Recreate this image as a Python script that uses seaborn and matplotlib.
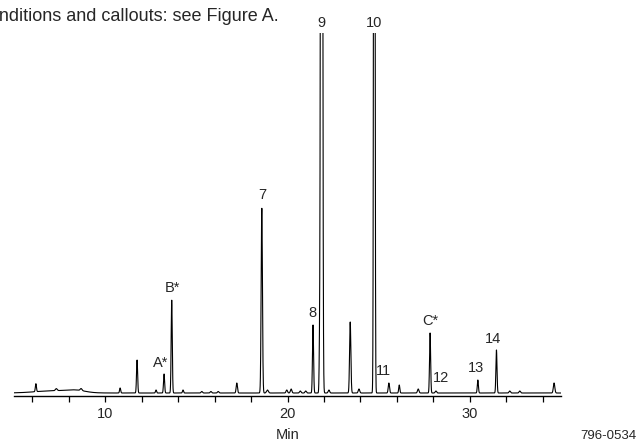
import numpy as np
import pandas as pd
import matplotlib
matplotlib.use("Agg")
import matplotlib.pyplot as plt
import seaborn as sns

# peak table: retention time (min), height (signal units), width (sigma, min)
peak_time = [6.20, 7.32, 8.68, 10.82, 11.75, 12.79, 13.23, 13.65, 14.27, 15.30, 15.80, 16.20,
             17.22, 18.59, 18.90, 19.96, 20.20, 20.70, 21.00, 21.40, 21.76, 21.87, 22.27,
             23.44, 23.92, 24.76, 25.56, 26.13, 27.17, 27.82, 28.14, 30.44, 31.46, 32.19,
             32.74, 34.62, 7.20, 8.40]
peak_height = [8, 2, 2, 5, 33, 3, 19, 93, 3, 1.5, 1.5, 1.5,
               10, 185, 3, 3, 4, 2, 2, 68, 39, 2000, 3,
               71, 4, 1500, 10, 8, 4, 60, 2, 13, 43, 2,
               2, 10, 2.2, 2.0]
peak_width = [0.03, 0.05, 0.05, 0.03, 0.03, 0.03, 0.03, 0.03, 0.03, 0.04, 0.04, 0.04,
              0.035, 0.035, 0.05, 0.04, 0.04, 0.04, 0.04, 0.03, 0.025, 0.04, 0.04,
              0.035, 0.04, 0.03, 0.035, 0.03, 0.04, 0.03, 0.04, 0.03, 0.03, 0.04,
              0.04, 0.04, 1.0, 0.5]

# callouts: text and the peak each one marks
callout_text = ["A*", "B*", "7", "8", "9", "10", "11", "12", "C*", "13", "14"]
callout_peak = [6, 7, 13, 19, 21, 25, 26, 30, 29, 31, 32]

# label centre offset from the peak top, in pixels
offsets = {"A*": (-3, 11), "B*": (1, 12), "7": (1, 13), "8": (-1, 12), "9": (0, 10),
           "10": (0, 10), "11": (-5, 12), "12": (5, 13), "C*": (0, 12), "13": (-2, 12),
           "14": (-3, 11)}

ymin, ymax = -3, 360

t = np.arange(5.0, 35.0, 0.004)
signal = np.zeros_like(t)
for mu, h, s in zip(peak_time, peak_height, peak_width):
    signal += h * np.exp(-0.5 * ((t - mu) / s) ** 2)
trace = pd.DataFrame({"Min": t, "signal": signal})

sns.set_style("ticks")
plt.rcParams["font.family"] = ["Liberation Sans", "DejaVu Sans"]

fig = plt.figure(figsize=(6.42, 4.41), dpi=100)
ax = fig.add_axes([14 / 642, 45 / 441, 547 / 642, 363 / 441])
sns.lineplot(data=trace, x="Min", y="signal", color="black", linewidth=0.8, ax=ax)

ax.set_xlim(5, 35)
ax.set_ylim(ymin, ymax)
ax.set_xticks(np.arange(6, 35, 2))
ax.set_xticklabels([str(v) if v % 10 == 0 else "" for v in range(6, 35, 2)])
ax.tick_params(axis="x", length=4, width=0.9, labelsize=10.5, pad=4, color="black")
ax.set_yticks([])
ax.set_ylabel("")
ax.set_xlabel("Min", fontsize=10.5, labelpad=5)
for side in ["left", "right", "top"]:
    ax.spines[side].set_visible(False)
ax.spines["bottom"].set_linewidth(1.0)
ax.spines["bottom"].set_color("black")

for label, idx in zip(callout_text, callout_peak):
    dx, dy = offsets[label]
    ax.annotate(label, xy=(peak_time[idx], min(peak_height[idx], ymax)),
                xytext=(dx, dy), textcoords="offset pixels",
                ha="center", va="center", fontsize=10.5, annotation_clip=False)

fig.text(279 / 642, 1 - 21 / 441, "Conditions and callouts: see Figure A.",
         ha="right", va="baseline", fontsize=13)
fig.text(636 / 642, 1 - 439 / 441, "796-0534", ha="right", va="baseline", fontsize=9.5)

fig.savefig("out.png", dpi=100)
